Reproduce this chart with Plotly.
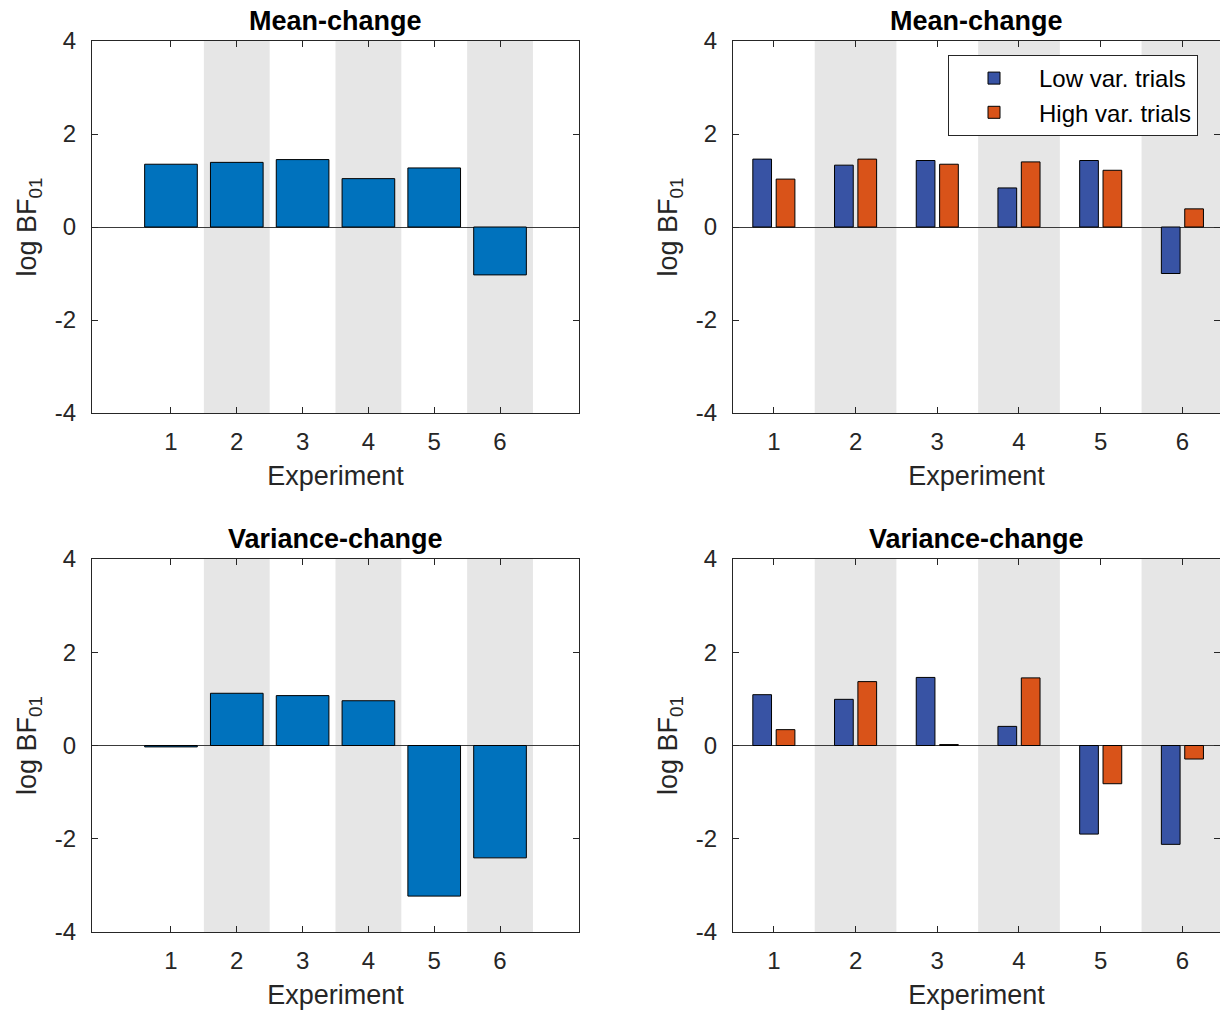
import plotly.graph_objects as go

# ---------------- data ----------------
experiments = [1, 2, 3, 4, 5, 6]
mean_all = [1.35, 1.39, 1.45, 1.04, 1.27, -1.03]
var_all = [-0.03, 1.12, 1.07, 0.96, -3.23, -2.41]
mean_low = [1.46, 1.33, 1.43, 0.84, 1.43, -1.00]
mean_high = [1.03, 1.46, 1.35, 1.40, 1.22, 0.39]
var_low = [1.09, 0.99, 1.46, 0.41, -1.90, -2.12]
var_high = [0.34, 1.37, 0.02, 1.45, -0.82, -0.29]
shaded_experiments = [2, 4, 6]
ytick_vals = [-4, -2, 0, 2, 4]
ytick_text = ["-4", "-2", "0", "2", "4"]
xtick_text = ["1", "2", "3", "4", "5", "6"]
panel_titles = ["Mean-change", "Mean-change", "Variance-change", "Variance-change"]
series_names = ["Low var. trials", "High var. trials"]

# ---------------- style ----------------
C_SINGLE = "#0072BD"
C_LOW = "#3853A4"
C_HIGH = "#D95319"
AX = "#262626"
FONT = "Liberation Sans, Arial, Helvetica, sans-serif"
TICK_SIZE = 24
LABEL_SIZE = 27

W, H = 1220, 1013
px = lambda v: v / W
py = lambda v: (H - v) / H

dom_x = {"L": [px(92), px(579)], "R": [px(733), 1.0]}
dom_y = {"T": [py(413), py(41)], "B": [py(932), py(559)]}
x_range = {"L": [-0.2, 7.2], "R": [0.5, 6.46]}

fig = go.Figure()

panels = [
    ("", "L", "T"),
    ("2", "R", "T"),
    ("3", "L", "B"),
    ("4", "R", "B"),
]

bar_line = dict(color="black", width=1)

# single-series panels
fig.add_trace(go.Bar(x=experiments, y=mean_all, width=0.8, marker=dict(color=C_SINGLE, line=bar_line),
                     xaxis="x", yaxis="y", showlegend=False))
fig.add_trace(go.Bar(x=experiments, y=var_all, width=0.8, marker=dict(color=C_SINGLE, line=bar_line),
                     xaxis="x3", yaxis="y3", showlegend=False))

# grouped panels
gw = 0.229
for ax, low, high, show in [("2", mean_low, mean_high, True), ("4", var_low, var_high, False)]:
    fig.add_trace(go.Bar(x=experiments, y=low, width=gw, offset=-0.143 - gw / 2,
                         marker=dict(color=C_LOW, line=bar_line), name=series_names[0],
                         xaxis="x" + ax, yaxis="y" + ax, showlegend=show))
    fig.add_trace(go.Bar(x=experiments, y=high, width=gw, offset=0.143 - gw / 2,
                         marker=dict(color=C_HIGH, line=bar_line), name=series_names[1],
                         xaxis="x" + ax, yaxis="y" + ax, showlegend=show))

layout = dict(
    width=W, height=H,
    margin=dict(l=0, r=0, t=0, b=0, autoexpand=False),
    paper_bgcolor="white", plot_bgcolor="white",
    barmode="overlay",
    font=dict(family=FONT, color=AX, size=TICK_SIZE),
    legend=dict(x=px(948), y=py(55), xanchor="left", yanchor="top",
                bgcolor="white", bordercolor=AX, borderwidth=1,
                font=dict(size=24, color="black"), itemwidth=80,
                tracegroupgap=0),
    shapes=[], annotations=[],
)

for i, (suf, cx, cy) in enumerate(panels):
    xa = "xaxis" + suf
    ya = "yaxis" + suf
    xr = "x" + suf
    yr = "y" + suf
    layout[xa] = dict(
        domain=dom_x[cx], anchor=yr, range=x_range[cx], automargin=False,
        tickmode="array", tickvals=experiments, ticktext=xtick_text,
        ticks="inside", ticklen=6, tickcolor=AX, tickwidth=1,
        showline=True, linecolor=AX, linewidth=1, mirror="ticks",
        showgrid=False, zeroline=False, ticklabelstandoff=7,
        tickfont=dict(size=TICK_SIZE, color=AX),
        title=dict(text="Experiment", font=dict(size=LABEL_SIZE, color=AX), standoff=12),
    )
    layout[ya] = dict(
        domain=dom_y[cy], anchor=xr, range=[-4, 4], automargin=False,
        tickmode="array", tickvals=ytick_vals, ticktext=ytick_text,
        ticks="inside", ticklen=6, tickcolor=AX, tickwidth=1,
        showline=True, linecolor=AX, linewidth=1, mirror="ticks",
        showgrid=False, zeroline=True, zerolinecolor="#3a3a3a", zerolinewidth=1,
        ticklabelstandoff=10,
        tickfont=dict(size=TICK_SIZE, color=AX),
        title=dict(text="log BF<sub>01</sub>", font=dict(size=LABEL_SIZE, color=AX), standoff=10),
    )
    for c in shaded_experiments:
        layout["shapes"].append(dict(type="rect", xref=xr, yref=yr + " domain",
                                     x0=c - 0.5, x1=c + 0.5, y0=0, y1=1,
                                     fillcolor="#E6E6E6", line=dict(width=0), layer="below"))
    layout["annotations"].append(dict(text="<b>" + panel_titles[i] + "</b>", xref=xr + " domain",
                                      yref=yr + " domain", x=0.5, y=1, xanchor="center",
                                      yanchor="bottom", yshift=3, showarrow=False,
                                      font=dict(size=LABEL_SIZE, color="black", family=FONT)))

fig.update_layout(**layout)
fig.write_html("out.html", config={"displayModeBar": False},
               post_script="document.body.style.margin='0';")
